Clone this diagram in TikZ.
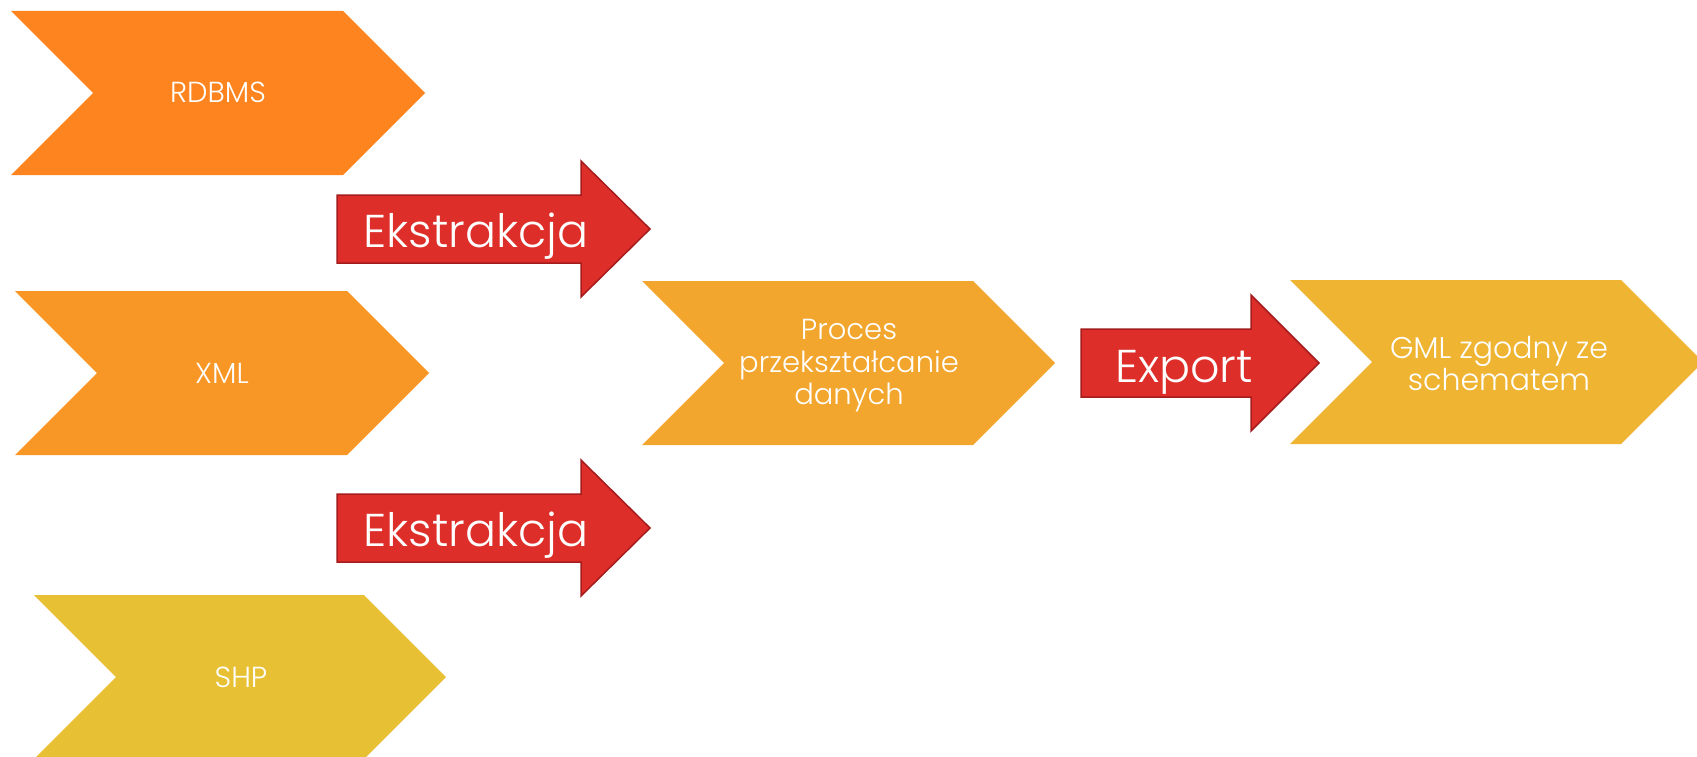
\documentclass[tikz,border=0pt]{standalone}
\usepackage{fontspec}
\setmainfont{Poppins Light}
\definecolor{rdbmsorange}{RGB}{253,132,30}
\definecolor{xmlorange}{RGB}{248,151,38}
\definecolor{shpyellow}{RGB}{232,192,52}
\definecolor{procorange}{RGB}{242,166,45}
\definecolor{gmlyellow}{RGB}{238,180,50}
\definecolor{arrowred}{RGB}{222,46,41}
\definecolor{arrowedge}{RGB}{165,28,28}
\begin{document}
\begin{tikzpicture}[x=1pt,y=-1pt,
  redarrow/.style={fill=arrowred,draw=arrowedge,line width=1.5pt,line join=miter},
  boxtext/.style={text=white,inner sep=0pt,align=center,font=\fontsize{29}{32.5}\selectfont},
  arrowtext/.style={text=white,inner sep=0pt,font=\fontsize{46}{50}\selectfont}]
\useasboundingbox (0,0) rectangle (1697,757);
\clip (0,0) rectangle (1697,757);

% source chevrons
\fill[rdbmsorange] (11,11) -- (343,11) -- (425,93) -- (343,175) -- (11,175) -- (93,93) -- cycle;
\fill[xmlorange] (15,291) -- (347,291) -- (429,373) -- (347,455) -- (15,455) -- (97,373) -- cycle;
\fill[shpyellow] (34,595) -- (364,595) -- (446,677) -- (364,759) -- (34,759) -- (116,677) -- cycle;
\node[boxtext,anchor=base] (rdbms) at (218,103) {RDBMS};
\node[boxtext,anchor=base] (xml) at (222,383) {XML};
\node[boxtext,anchor=base] (shp) at (241,687) {SHP};

% processing and result chevrons
\fill[procorange] (642,281) -- (973,281) -- (1055,363) -- (973,445) -- (642,445) -- (724,363) -- cycle;
\fill[gmlyellow] (1290,280) -- (1621,280) -- (1703,362) -- (1621,444) -- (1290,444) -- (1372,362) -- cycle;
\node[boxtext,font=\fontsize{29}{32.5}\selectfont] (proc) at (849,366) {Proces\\przekształcanie\\danych};
\node[boxtext,font=\fontsize{30}{32}\selectfont] (gml) at (1499,364) {GML zgodny ze\\schematem};

% block arrows
\draw[redarrow] (337,195) -- (581,195) -- (581,161) -- (650,229) -- (581,297) -- (581,263) -- (337,263) -- cycle;
\draw[redarrow] (337,494) -- (581,494) -- (581,460) -- (650,528) -- (581,596) -- (581,562) -- (337,562) -- cycle;
\draw[redarrow] (1081,329) -- (1251,329) -- (1251,295) -- (1319,363) -- (1251,431) -- (1251,397) -- (1081,397) -- cycle;
\node[arrowtext,anchor=base] (ekstr1) at (476,247) {Ekstrakcja};
\node[arrowtext,anchor=base] (ekstr2) at (476,546) {Ekstrakcja};
\node[arrowtext,anchor=base] (export) at (1184,382) {Export};
\end{tikzpicture}
\end{document}
